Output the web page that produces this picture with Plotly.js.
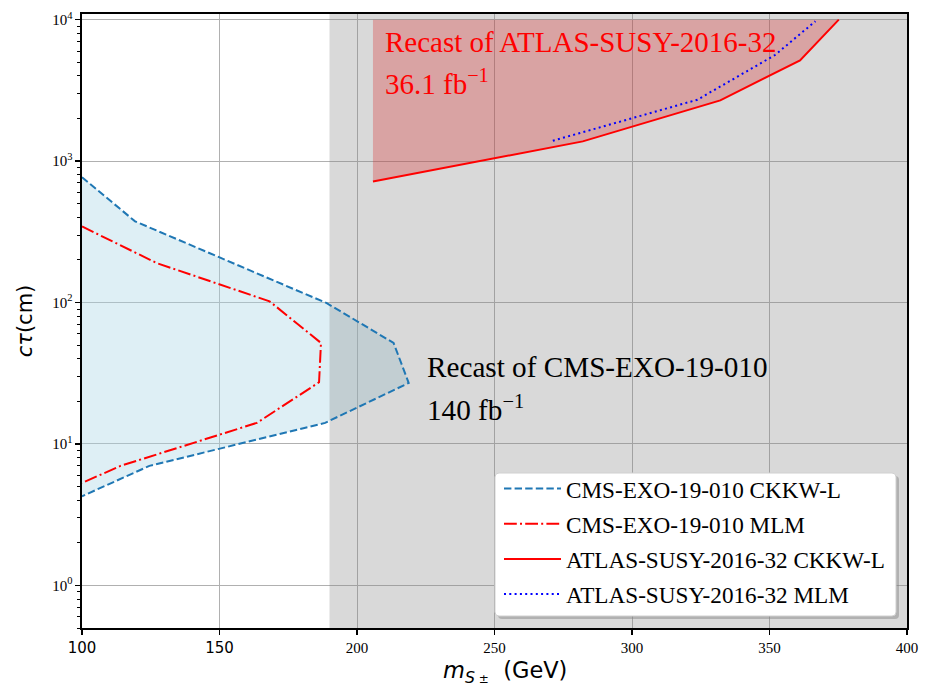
<!DOCTYPE html>
<html>
<head>
<meta charset="utf-8">
<script src="https://cdn.plot.ly/plotly-3.0.1.min.js"></script>
<style>html,body{margin:0;padding:0;background:#fff;}#chart{width:930px;height:687px;}</style>
</head>
<body>
<div id="chart"></div>
<script>
// ---------- data ----------
// CMS-EXO-19-010 recast, CKKW-L merging (closed contour: upper branch then lower branch)
const cmsCkkwMass = [100, 119.3, 189, 213.3, 218.8, 188.4, 124.5, 100];
const cmsCkkwCtau = [768, 375, 99, 51.8, 27, 14.1, 7.0, 4.27];
// CMS-EXO-19-010 recast, MLM merging
const cmsMlmMass = [100, 127.2, 168.2, 186.9, 186.2, 163.6, 114, 100];
const cmsMlmCtau = [345, 190, 102, 51.8, 27.3, 14.1, 7.0, 5.3];
// ATLAS-SUSY-2016-32 recast, CKKW-L merging
const atlasCkkwMass = [205.8, 282.1, 332.1, 361.1, 375.2];
const atlasCkkwCtau = [718, 1378, 2688, 5150, 10000];
// ATLAS-SUSY-2016-32 recast, MLM merging
const atlasMlmMass = [271.2, 323.8, 352, 366.7];
const atlasMlmCtau = [1393, 2716, 5620, 9750];
// excluded region (grey band) lower mass bound and shaded ATLAS region upper ctau
const excludedMassMin = 190;
const atlasFillTop = 10000;
// axis ranges and ticks
const xRange = [100, 400];
const yRange = [0.5, 10960];
const xTickVals = [100, 150, 200, 250, 300, 350, 400];
const yTickVals = [1, 10, 100, 1000, 10000];
const seriesNames = ["CMS-EXO-19-010 CKKW-L", "CMS-EXO-19-010 MLM", "ATLAS-SUSY-2016-32 CKKW-L", "ATLAS-SUSY-2016-32 MLM"];
const atlasLabel = ["Recast of ATLAS-SUSY-2016-32", "36.1 fb<sup>−1</sup>"];
const cmsLabel = ["Recast of CMS-EXO-19-010", "140 fb<sup>−1</sup>"];

// ---------- styling ----------
const SERIF = "Liberation Serif, Times New Roman, serif";
const SANS = "DejaVu Sans, sans-serif";
const plotL = 82, plotR = 907, plotT = 14, plotB = 628;
const W = 930, H = 687;
const px2x = p => (p - plotL) / (plotR - plotL);
const px2y = p => (plotB - p) / (plotB - plotT);

const traces = [];
// blue shaded CMS region
traces.push({
  x: cmsCkkwMass, y: cmsCkkwCtau, mode: 'lines', fill: 'toself',
  fillcolor: 'rgba(173,216,230,0.4)', line: {width: 0}, showlegend: false, hoverinfo: 'skip'
});
// red shaded ATLAS region (between the CKKW-L line and the top)
traces.push({
  x: atlasCkkwMass.concat([atlasCkkwMass[0]]),
  y: atlasCkkwCtau.concat([atlasFillTop]),
  mode: 'lines', fill: 'toself', fillcolor: 'rgba(255,0,0,0.3)', line: {width: 0},
  showlegend: false, hoverinfo: 'skip'
});
// grey excluded band (spans whole y range)
traces.push({
  x: [excludedMassMin, xRange[1], xRange[1], excludedMassMin],
  y: [yRange[0] / 10, yRange[0] / 10, yRange[1] * 10, yRange[1] * 10],
  mode: 'lines', fill: 'toself', fillcolor: 'rgba(128,128,128,0.3)', line: {width: 0},
  showlegend: false, hoverinfo: 'skip'
});
// lines
traces.push({x: cmsCkkwMass, y: cmsCkkwCtau, mode: 'lines', name: seriesNames[0], legendgroup: 'a',
  line: {color: '#1f77b4', width: 2, dash: '7.4px,3.2px'}});
traces.push({x: cmsMlmMass, y: cmsMlmCtau, mode: 'lines', name: seriesNames[1], legendgroup: 'b',
  line: {color: '#ff0000', width: 2, dash: '12.8px,3.2px,2px,3.2px'}});
traces.push({x: atlasCkkwMass, y: atlasCkkwCtau, mode: 'lines', name: seriesNames[2], legendgroup: 'c',
  line: {color: '#ff0000', width: 2}});
traces.push({x: atlasMlmMass, y: atlasMlmCtau, mode: 'lines', name: seriesNames[3], legendgroup: 'd',
  line: {color: '#0000ff', width: 2, dash: '2px,3.3px'}});

const xTickText = xTickVals.map(v => v < 200
  ? '<span style="font-family:DejaVu Sans">' + v + '</span>'
  : String(v));
const yTickText = yTickVals.map(v => '10<sup>' + Math.round(Math.log10(v)) + '</sup>');

// legend box geometry in px (box drawn as shapes, legend itself transparent)
const legL = 495, legT = 473, legR = 896, legB = 616, sh = 3, rad = 4;
function roundRect(l, t, r, b, rr) {
  const X = px2x, Y = px2y;
  return 'M' + X(l + rr) + ',' + Y(t) + ' L' + X(r - rr) + ',' + Y(t) +
    ' Q' + X(r) + ',' + Y(t) + ' ' + X(r) + ',' + Y(t + rr) +
    ' L' + X(r) + ',' + Y(b - rr) + ' Q' + X(r) + ',' + Y(b) + ' ' + X(r - rr) + ',' + Y(b) +
    ' L' + X(l + rr) + ',' + Y(b) + ' Q' + X(l) + ',' + Y(b) + ' ' + X(l) + ',' + Y(b - rr) +
    ' L' + X(l) + ',' + Y(t + rr) + ' Q' + X(l) + ',' + Y(t) + ' ' + X(l + rr) + ',' + Y(t) + ' Z';
}

const annFontRed = {family: SERIF, size: 29, color: '#ff0000'};
const annFontBlack = {family: SERIF, size: 29.2, color: '#000'};

const layout = {
  width: W, height: H,
  margin: {l: plotL, r: W - plotR, t: plotT, b: H - plotB, pad: 0},
  paper_bgcolor: '#fff', plot_bgcolor: '#fff',
  showlegend: true,
  xaxis: {
    range: xRange, tickvals: xTickVals, ticktext: xTickText,
    ticks: 'outside', ticklen: 5, tickwidth: 1.2, tickcolor: '#000',
    showline: true, linecolor: '#000', linewidth: 1.6, mirror: true,
    showgrid: true, gridcolor: '#b0b0b0', gridwidth: 1, zeroline: false,
    tickfont: {family: SERIF, size: 15, color: '#000'},
    title: {text: '&nbsp;&nbsp;&nbsp;<i>m</i><sub><i>S</i><span style="font-size:12px"> ±</span></sub>  (GeV)',
      font: {family: SANS, size: 22.5, color: '#000'}, standoff: 9}
  },
  yaxis: {
    type: 'log', range: [Math.log10(yRange[0]), Math.log10(yRange[1])],
    tickvals: yTickVals, ticktext: yTickText,
    ticks: 'outside', ticklen: 5, tickwidth: 1.2, tickcolor: '#000',
    minor: {ticks: 'outside', ticklen: 3, tickwidth: 1, tickcolor: '#000', dtick: 'D1', showgrid: false},
    showline: true, linecolor: '#000', linewidth: 1.6, mirror: true,
    showgrid: true, gridcolor: '#b0b0b0', gridwidth: 1, zeroline: false,
    tickfont: {family: SERIF, size: 15, color: '#000'},
    title: {text: '<i>cτ</i>(cm)', font: {family: SANS, size: 21, color: '#000'}, standoff: 14}
  },
  legend: {
    x: px2x(legL), y: px2y(legT - 6), xanchor: 'left', yanchor: 'top',
    bgcolor: 'rgba(0,0,0,0)', borderwidth: 0,
    font: {family: SERIF, size: 23.2, color: '#000'},
    tracegroupgap: 2.0, traceorder: 'grouped', itemwidth: 57, indentation: 4
  },
  shapes: [
    {type: 'path', xref: 'paper', yref: 'paper', layer: 'above',
      path: roundRect(legL + sh, legT + sh, legR + sh, legB + sh, rad),
      fillcolor: 'rgba(128,128,128,0.45)', line: {width: 0}},
    {type: 'path', xref: 'paper', yref: 'paper', layer: 'above',
      path: roundRect(legL, legT, legR, legB, rad),
      fillcolor: '#ffffff', line: {color: '#d0d0d0', width: 1}}
  ],
  annotations: [
    {xref: 'x', yref: 'paper', x: 209.5, y: px2y(24), xanchor: 'left', yanchor: 'top', align: 'left',
      showarrow: false, text: atlasLabel[0], font: annFontRed},
    {xref: 'x', yref: 'paper', x: 209.5, y: px2y(102.5), xanchor: 'left', yanchor: 'bottom', align: 'left',
      showarrow: false, text: atlasLabel[1], font: annFontRed},
    {xref: 'x', yref: 'paper', x: 224.6, y: px2y(349), xanchor: 'left', yanchor: 'top', align: 'left',
      showarrow: false, text: cmsLabel[0], font: annFontBlack},
    {xref: 'x', yref: 'paper', x: 224.6, y: px2y(427.5), xanchor: 'left', yanchor: 'bottom', align: 'left',
      showarrow: false, text: cmsLabel[1], font: annFontBlack}
  ]
};

Plotly.newPlot('chart', traces, layout, {displayModeBar: false, staticPlot: true});
</script>
</body>
</html>
